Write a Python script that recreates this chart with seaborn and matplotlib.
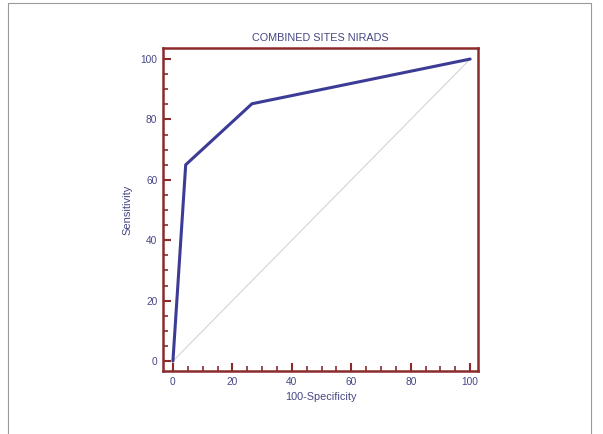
import matplotlib
matplotlib.use("Agg")
import matplotlib.pyplot as plt
import seaborn as sns
import pandas as pd
from matplotlib.lines import Line2D
from matplotlib.ticker import MultipleLocator

# --- Data ---
false_pos = [0, 4.3, 26.6, 100]      # 100-Specificity
sensitivity = [0, 65, 85.2, 100]
ref_line = [0, 100]

TEXT = "#464684"
SPINE = "#8a2a2a"
CURVE = "#3c3c96"

sns.set_theme(style="white")
plt.rcParams["font.family"] = ["Liberation Sans", "DejaVu Sans"]

fig = plt.figure(figsize=(6.03, 4.34), dpi=100)
ax = fig.add_axes([0.270, 0.145, 0.523, 0.744])

df = pd.DataFrame({"fpr": false_pos, "sens": sensitivity})
sns.lineplot(x=ref_line, y=ref_line, ax=ax, color="#d4d4d8", linewidth=0.8)
sns.lineplot(data=df, x="fpr", y="sens", ax=ax, color=CURVE, linewidth=2.2, sort=False)

ax.set_xlim(-3.4, 102.7)
ax.set_ylim(-3.3, 103.6)
ax.xaxis.set_major_locator(MultipleLocator(20))
ax.xaxis.set_minor_locator(MultipleLocator(5))
ax.yaxis.set_major_locator(MultipleLocator(20))
ax.yaxis.set_minor_locator(MultipleLocator(5))
ax.tick_params(which="major", direction="in", length=6, width=1.5, color=SPINE,
               labelsize=7.3, labelcolor=TEXT, pad=4)
ax.tick_params(which="minor", direction="in", length=3.5, width=1.2, color=SPINE)
ax.tick_params(axis="x", which="both", bottom=True)
ax.tick_params(axis="y", which="both", left=True)

for s in ax.spines.values():
    s.set_color(SPINE)
    s.set_linewidth(1.8)

ax.set_title("COMBINED SITES NIRADS", fontsize=7.8, color=TEXT, pad=5)
ax.set_xlabel("100-Specificity", fontsize=7.8, color=TEXT, labelpad=4)
ax.set_ylabel("Sensitivity", fontsize=8, color=TEXT, labelpad=6)

# light frame round the picture
for x0, y0, x1, y1 in [(8, 3, 591, 3), (8, 3, 8, 434), (591, 3, 591, 434)]:
    fig.add_artist(Line2D([x0 / 603, x1 / 603], [1 - y0 / 434, 1 - y1 / 434],
                          color="#9a9a9a", linewidth=0.8))

fig.savefig("out.png", dpi=100, facecolor="white")
